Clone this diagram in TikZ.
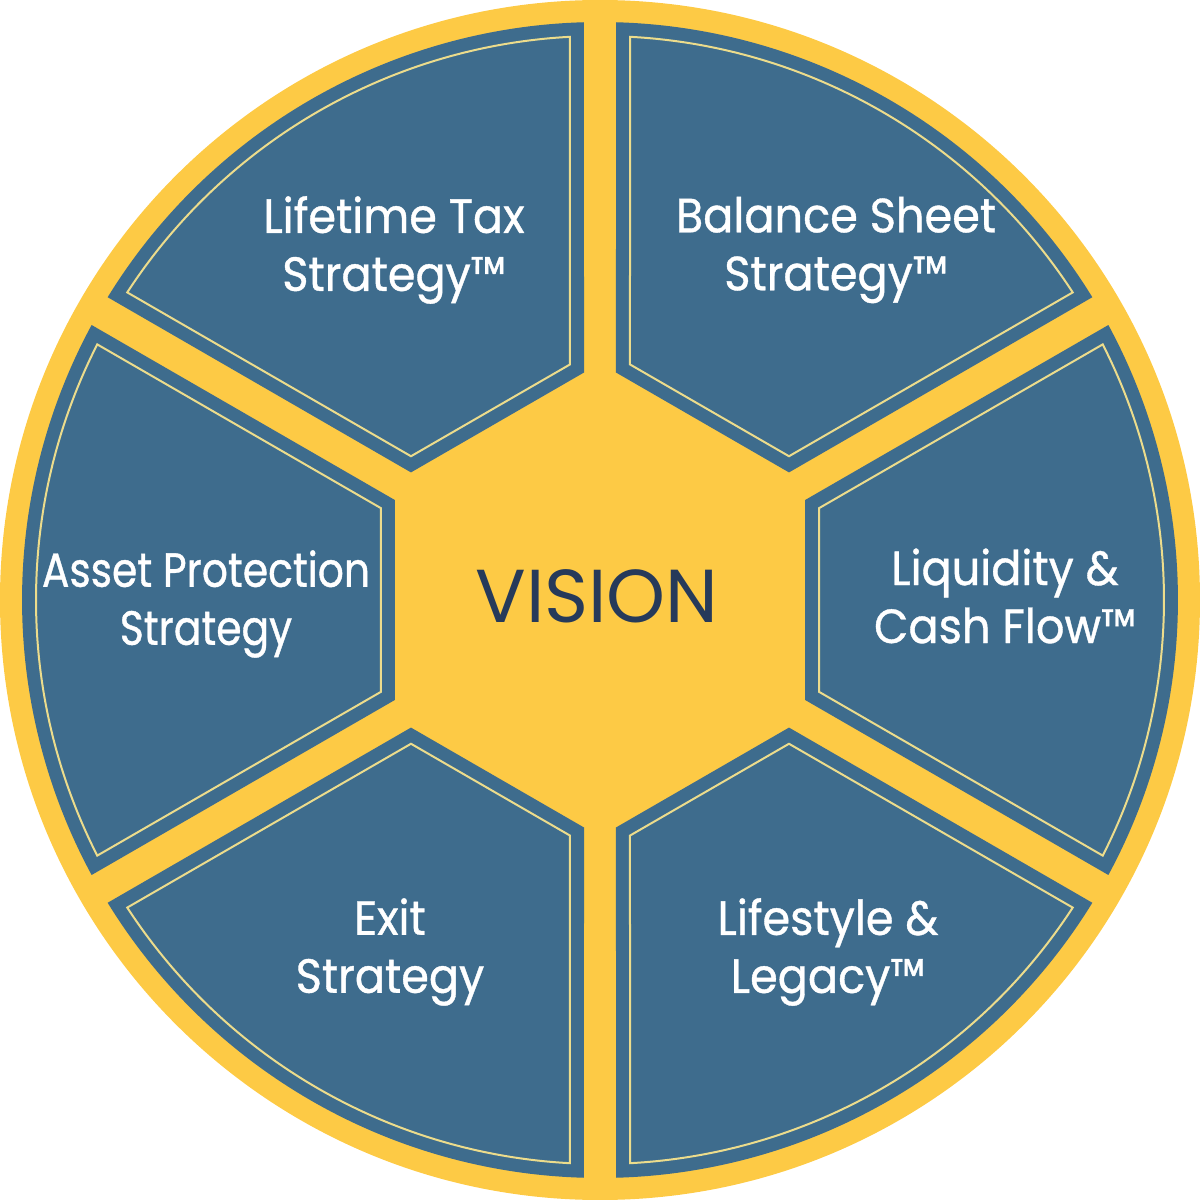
\documentclass[tikz,border=0pt]{standalone}
\usepackage{fontspec}
\usepackage{color}
\setmainfont{Poppins}
\newfontfamily\labelfont[FakeStretch=0.93,FakeBold=0.8]{Poppins}
\newfontfamily\narrowfont[FakeStretch=0.85,FakeBold=0.8]{Poppins}
\definecolor{wheelyellow}{RGB}{253,202,69}
\definecolor{wheelblue}{RGB}{62,108,141}
\definecolor{rimyellow}{RGB}{236,220,140}
\definecolor{visionblue}{RGB}{38,58,90}

\begin{document}
\begin{tikzpicture}[x=1pt,y=1pt,
			seg/.style={fill=wheelblue},
			rim/.style={draw=rimyellow,line width=2pt},
			lbl/.style={text=white,align=center,inner sep=0pt,font=\labelfont\fontsize{48}{58}\selectfont}]
			\useasboundingbox (-600,-600) rectangle (600,600);
			\fill[wheelyellow] (0,0) circle[radius=600];
			% blue segments round the hexagon
			\fill[seg,rotate=0] (205,-99.9) -- (205,99.9) -- (28.41:578) arc[start angle=28.41,end angle=-28.41,radius=578] -- cycle;
			\fill[seg,rotate=60] (205,-99.9) -- (205,99.9) -- (28.41:578) arc[start angle=28.41,end angle=-28.41,radius=578] -- cycle;
			\fill[seg,rotate=120] (205,-99.9) -- (205,99.9) -- (28.41:578) arc[start angle=28.41,end angle=-28.41,radius=578] -- cycle;
			\fill[seg,rotate=180] (205,-99.9) -- (205,99.9) -- (28.41:578) arc[start angle=28.41,end angle=-28.41,radius=578] -- cycle;
			\fill[seg,rotate=240] (205,-99.9) -- (205,99.9) -- (28.41:578) arc[start angle=28.41,end angle=-28.41,radius=578] -- cycle;
			\fill[seg,rotate=300] (205,-99.9) -- (205,99.9) -- (28.41:578) arc[start angle=28.41,end angle=-28.41,radius=578] -- cycle;
			% thin inner outlines
			\draw[rim,rotate=0] (219,-91.8) -- (219,91.8) -- (26.95:564) arc[start angle=26.95,end angle=-26.95,radius=564] -- cycle;
			\draw[rim,rotate=60] (219,-91.8) -- (219,91.8) -- (26.95:564) arc[start angle=26.95,end angle=-26.95,radius=564] -- cycle;
			\draw[rim,rotate=120] (219,-91.8) -- (219,91.8) -- (26.95:564) arc[start angle=26.95,end angle=-26.95,radius=564] -- cycle;
			\draw[rim,rotate=180] (219,-91.8) -- (219,91.8) -- (26.95:564) arc[start angle=26.95,end angle=-26.95,radius=564] -- cycle;
			\draw[rim,rotate=240] (219,-91.8) -- (219,91.8) -- (26.95:564) arc[start angle=26.95,end angle=-26.95,radius=564] -- cycle;
			\draw[rim,rotate=300] (219,-91.8) -- (219,91.8) -- (26.95:564) arc[start angle=26.95,end angle=-26.95,radius=564] -- cycle;
			\node[lbl] (1)at(405,4) {Liquidity \&\\Cash Flow™};
			\node[lbl] (2)at(236,350) {Balance Sheet\\Strategy™};
			\node[lbl] (3)at(-206,350) {Lifetime Tax\\Strategy™};
			\node[lbl,font=\narrowfont\fontsize{48}{58}\selectfont] (4)at(-394,-4) {Asset Protection\\Strategy};
			\node[lbl] (5)at(-210,-352) {Exit\\Strategy};
			\node[lbl] (6)at(228,-352) {Lifestyle \&\\Legacy™};
			\node[text=visionblue,inner sep=0pt,anchor=base,font=\fontsize{75}{75}\selectfont] (V)at(-3,-22) {VISION};
\end{tikzpicture}
\end{document}
